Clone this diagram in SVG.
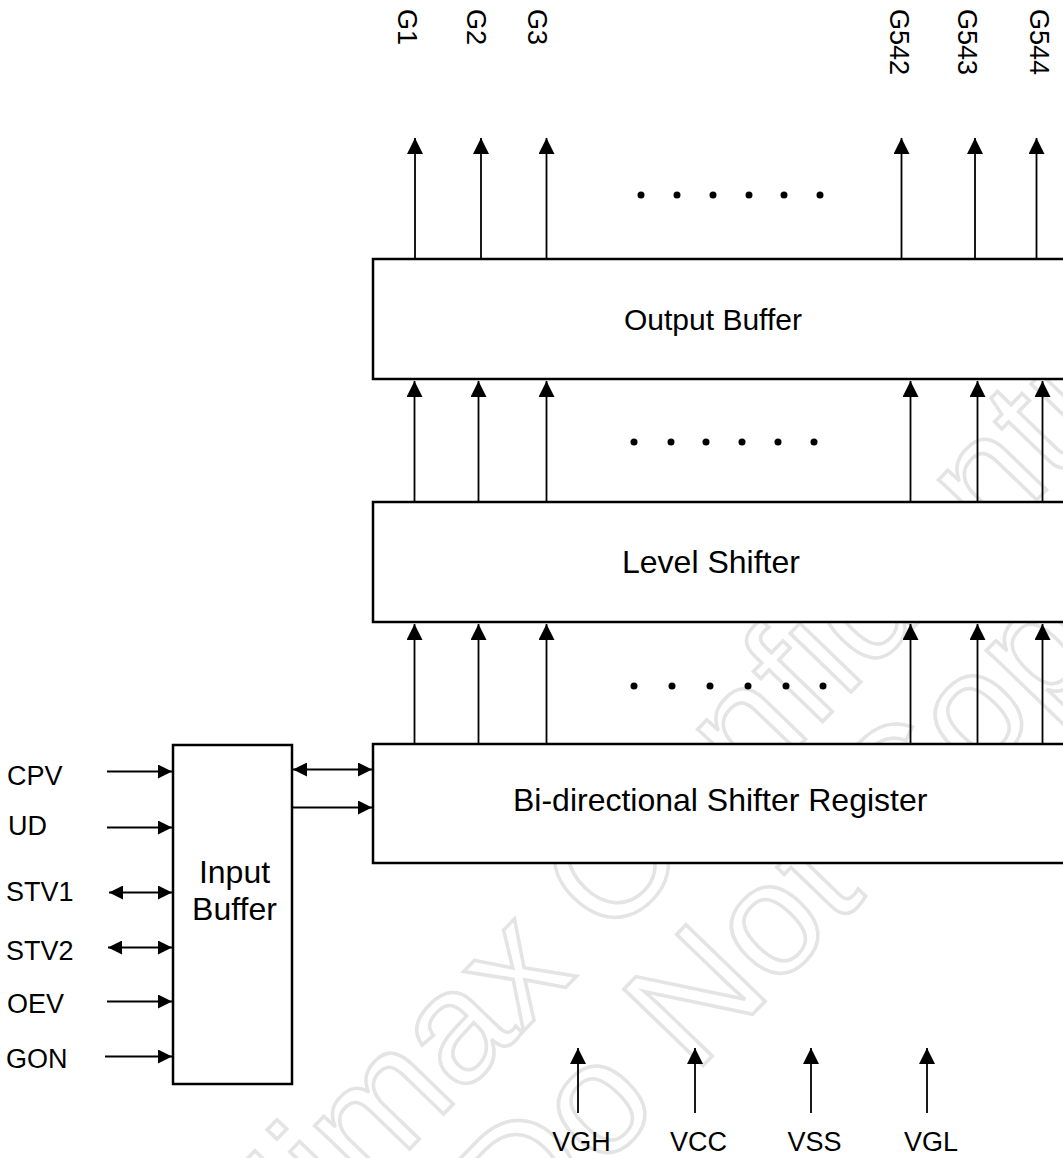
<svg xmlns="http://www.w3.org/2000/svg" width="1063" height="1158" viewBox="0 0 1063 1158">
  <style>
    .box { fill: #ffffff; stroke: #000000; stroke-width: 2.5; }
    .wire { fill: none; stroke: #000000; stroke-width: 1.8; }
    .up { marker-end: url(#ahL); }
    .in { marker-end: url(#ahS); }
    .bi { marker-start: url(#ahS); marker-end: url(#ahS); }
    .lbl { font-family: "Liberation Sans", Arial, Helvetica, sans-serif; fill: #000000; }
    .big { font-size: 32px; }
    .sm { font-size: 27px; }
    .wm { font-family: "Liberation Sans", Arial, sans-serif; font-size: 160px; fill: none; stroke: #e4e4e4; stroke-width: 3.5; }
    .dot { fill: #000000; }
  </style>
  <defs>
    <marker id="ahL" viewBox="0 0 16 16" refX="16" refY="8" markerWidth="16" markerHeight="16" markerUnits="userSpaceOnUse" orient="auto-start-reverse">
      <path d="M0,0 L16,8 L0,16 z" fill="#000000"/>
    </marker>
    <marker id="ahS" viewBox="0 0 14 14" refX="14" refY="7" markerWidth="14" markerHeight="14" markerUnits="userSpaceOnUse" orient="auto-start-reverse">
      <path d="M0,0 L14,7 L0,14 z" fill="#000000"/>
    </marker>
  </defs>

  <rect x="0" y="0" width="1063" height="1158" fill="#ffffff"/>

  <g id="watermark">
    <text class="wm" x="263" y="1301" transform="rotate(-46 263 1301)">Himax Confidential</text>
    <text class="wm" x="521" y="1254" transform="rotate(-46 521 1254)">Do Not Copy</text>
  </g>

  <g id="output-buffer">
    <rect class="box" x="373" y="259" width="710" height="120"/>
    <text class="lbl" x="624" y="330" font-size="30">Output Buffer</text>
  </g>
  <g id="level-shifter">
    <rect class="box" x="373" y="502" width="710" height="120"/>
    <text class="lbl big" x="622" y="573">Level Shifter</text>
  </g>
  <g id="shift-register">
    <rect class="box" x="373" y="744" width="710" height="119"/>
    <text class="lbl big" x="513" y="811">Bi-directional Shifter Register</text>
  </g>
  <g id="input-buffer">
    <rect class="box" x="173" y="745" width="119" height="339"/>
    <text class="lbl big" x="234.5" y="883" text-anchor="middle">Input</text>
    <text class="lbl big" x="234.5" y="920" text-anchor="middle">Buffer</text>
  </g>

  <g id="connectors">
    <line class="wire up" x1="415" y1="259" x2="415" y2="138"/>
    <line class="wire up" x1="481" y1="259" x2="481" y2="138"/>
    <line class="wire up" x1="546.5" y1="259" x2="546.5" y2="138"/>
    <line class="wire up" x1="901.5" y1="259" x2="901.5" y2="138"/>
    <line class="wire up" x1="975" y1="259" x2="975" y2="138"/>
    <line class="wire up" x1="1036.5" y1="259" x2="1036.5" y2="138"/>
    <line class="wire up" x1="414.5" y1="502" x2="414.5" y2="381"/>
    <line class="wire up" x1="478.5" y1="502" x2="478.5" y2="381"/>
    <line class="wire up" x1="546.5" y1="502" x2="546.5" y2="381"/>
    <line class="wire up" x1="910.5" y1="502" x2="910.5" y2="381"/>
    <line class="wire up" x1="977.5" y1="502" x2="977.5" y2="381"/>
    <line class="wire up" x1="1042.5" y1="502" x2="1042.5" y2="381"/>
    <line class="wire up" x1="414.5" y1="744" x2="414.5" y2="624"/>
    <line class="wire up" x1="478.5" y1="744" x2="478.5" y2="624"/>
    <line class="wire up" x1="546.5" y1="744" x2="546.5" y2="624"/>
    <line class="wire up" x1="910.5" y1="744" x2="910.5" y2="624"/>
    <line class="wire up" x1="977.5" y1="744" x2="977.5" y2="624"/>
    <line class="wire up" x1="1042.5" y1="744" x2="1042.5" y2="624"/>
    <line class="wire in" x1="107" y1="771.5" x2="172" y2="771.5"/>
    <line class="wire in" x1="107" y1="827.5" x2="172" y2="827.5"/>
    <line class="wire bi" x1="109" y1="892.5" x2="172" y2="892.5"/>
    <line class="wire bi" x1="108" y1="947.5" x2="172" y2="947.5"/>
    <line class="wire in" x1="107" y1="1001.5" x2="172" y2="1001.5"/>
    <line class="wire in" x1="105" y1="1056.5" x2="172" y2="1056.5"/>
    <line class="wire bi" x1="293" y1="769.5" x2="372" y2="769.5"/>
    <line class="wire in" x1="292" y1="807.5" x2="372" y2="807.5"/>
    <line class="wire up" x1="578" y1="1113" x2="578" y2="1048"/>
    <line class="wire up" x1="695" y1="1113" x2="695" y2="1048"/>
    <line class="wire up" x1="811" y1="1113" x2="811" y2="1048"/>
    <line class="wire up" x1="927" y1="1113" x2="927" y2="1048"/>
  </g>

  <g id="ellipsis">
    <circle class="dot" cx="641" cy="195" r="3.5"/>
    <circle class="dot" cx="677" cy="195" r="3.5"/>
    <circle class="dot" cx="713" cy="195" r="3.5"/>
    <circle class="dot" cx="749" cy="195" r="3.5"/>
    <circle class="dot" cx="784" cy="195" r="3.5"/>
    <circle class="dot" cx="820" cy="195" r="3.5"/>
    <circle class="dot" cx="634" cy="442" r="3.5"/>
    <circle class="dot" cx="671" cy="442" r="3.5"/>
    <circle class="dot" cx="706" cy="442" r="3.5"/>
    <circle class="dot" cx="742" cy="442" r="3.5"/>
    <circle class="dot" cx="778" cy="442" r="3.5"/>
    <circle class="dot" cx="814" cy="442" r="3.5"/>
    <circle class="dot" cx="634" cy="686" r="3.5"/>
    <circle class="dot" cx="672" cy="686" r="3.5"/>
    <circle class="dot" cx="710" cy="686" r="3.5"/>
    <circle class="dot" cx="748" cy="686" r="3.5"/>
    <circle class="dot" cx="786" cy="686" r="3.5"/>
    <circle class="dot" cx="823" cy="686" r="3.5"/>
  </g>

  <g id="gate-labels">
    <text class="lbl sm" transform="translate(398 9) rotate(90)">G1</text>
    <text class="lbl sm" transform="translate(467 9) rotate(90)">G2</text>
    <text class="lbl sm" transform="translate(528 9) rotate(90)">G3</text>
    <text class="lbl sm" transform="translate(890 9) rotate(90)">G542</text>
    <text class="lbl sm" transform="translate(958 9) rotate(90)">G543</text>
    <text class="lbl sm" transform="translate(1030 9) rotate(90)">G544</text>
  </g>

  <g id="input-labels">
    <text class="lbl sm" x="7" y="785">CPV</text>
    <text class="lbl sm" x="8" y="835">UD</text>
    <text class="lbl sm" x="6" y="901">STV1</text>
    <text class="lbl sm" x="6" y="960">STV2</text>
    <text class="lbl sm" x="7" y="1013">OEV</text>
    <text class="lbl sm" x="6" y="1068">GON</text>
  </g>

  <g id="supply-labels">
    <text class="lbl sm" x="581.5" y="1151" text-anchor="middle">VGH</text>
    <text class="lbl sm" x="698.5" y="1151" text-anchor="middle">VCC</text>
    <text class="lbl sm" x="814.5" y="1151" text-anchor="middle">VSS</text>
    <text class="lbl sm" x="931" y="1151" text-anchor="middle">VGL</text>
  </g>
</svg>
